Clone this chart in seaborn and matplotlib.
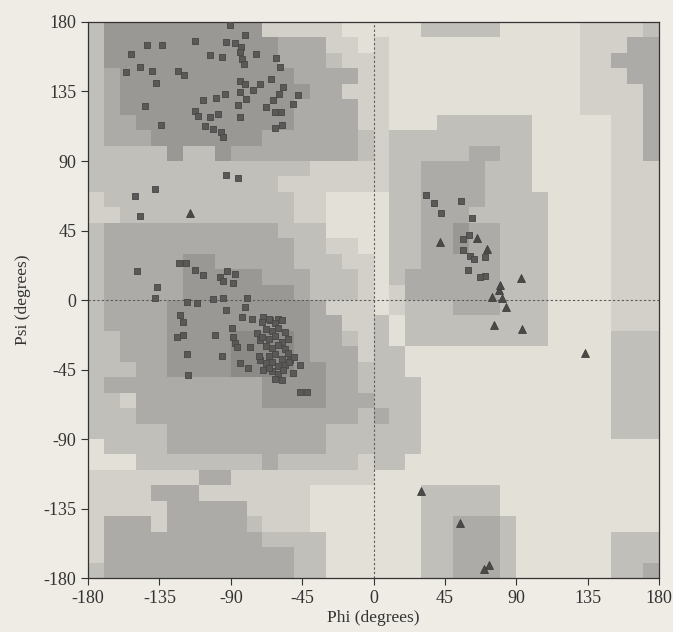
import numpy as np
import pandas as pd
import matplotlib
matplotlib.use("Agg")
import matplotlib.pyplot as plt
from matplotlib.colors import ListedColormap
import seaborn as sns

# background region map, 10 degree cells, rows from psi=180 (top) down to -180
region_rows = [
    "244444444441111100" + "000222220000011112",
    "244444444444333110" + "100000000000011133",
    "244444444444333211" + "100000000000011333",
    "234444444444433331" + "100000000000011133",
    "234444444444443311" + "100000000000011113",
    "234444444444433331" + "100000000000011113",
    "233444444444433331" + "100022222200000113",
    "233344444443333332" + "122222222200000113",
    "222224224333333332" + "122222332200000113",
    "222222222222221111" + "122333322200000111",
    "222222222222111111" + "122333322200000111",
    "122222222222211000" + "022333322220000111",
    "112222222222211000" + "022333222220000111",
    "233333333333222000" + "022334332220000111",
    "233333333333322110" + "022334332220000111",
    "233333443333322211" + "022333332220000111",
    "233333444443332221" + "023333332220000111",
    "233333444444432221" + "013333332220000111",
    "233334444444443111" + "012223332220000111",
    "233334444444443311" + "202222222220000111",
    "223334444555543321" + "202222222220000222",
    "223334444555543331" + "220000000000000222",
    "222334444555544332" + "220000000000000222",
    "233333333334444332" + "222000000000000222",
    "221333333334444333" + "222000000000000222",
    "222333333333333332" + "322000000000000222",
    "222223333333333222" + "222000000000000222",
    "022223333333333222" + "222000000000000000",
    "000222222223222221" + "220000000000000000",
    "111111133111111111" + "000000000000000000",
    "111133311111110000" + "000222220000000000",
    "111113333311110000" + "000222220000000000",
    "133313333321110000" + "000223332000000000",
    "133333333332222000" + "000223332000000222",
    "133333333333322000" + "000223332000000222",
    "233333333333322000" + "000223332000000223",
]
region_colors = ["#e3e0d8", "#d2d0c9", "#c0bfb9", "#acaba7", "#999894", "#8b8a87"]

# residues in non-glycine conformations (squares)
phi_res = [-90.7, -81.2, -142.6, -133.3, -112.7, -92.8, -87.5, -83.3, -84.4, -153.1,
           -103.3, -95.5, -82.9, -73.9, -61.3, -81.6, -147.0, -155.8, -139.4, -123.3,
           -119.5, -59.2, -136.9, -84.4, -81.2, -71.8, -64.8, -57.0, -59.8, -47.6,
           -93.8, -99.1, -76.0, -80.2, -107.5, -84.4, -63.4, -50.7, -143.9, -85.4,
           -112.7, -110.6, -98.0, -67.6, -62.3, -58.5, -84.4, -103.3, -133.8, -106.4,
           -101.2, -95.9, -94.9, -62.3, -57.7, -92.8, -85.4, -138.0, -150.2, -147.4,
           -122.9, -118.1, -149.3, -112.5, -107.3, -92.6, -87.4, -96.8, -94.7, -88.4,
           -136.7, -137.8, -117.8, -111.5, -101.0, -94.7, -80.0, -81.0, -93.2, -122.0,
           -119.9, -83.1, -76.8, -69.5, -65.2, -60.0, -89.4, -88.4, -124.1, -119.9,
           -99.9, -87.3, -86.2, -77.9, -71.6, -73.6, -117.4, -95.7, -84.2, -78.9,
           -71.6, -69.5, -116.8, -46.3, -42.1, -46.3, -50.6, -52.6,
           -70.0, -66.0, -62.0, -58.0, -68.0, -64.0, -60.0, -56.0, -70.0, -66.0,
           -62.0, -58.0, -54.0, -68.0, -64.0, -60.0, -56.0, -66.0, -62.0, -58.0,
           -54.0, -68.0, -64.0, -60.0, -56.0, -64.0, -60.0, -57.0, -62.0, -58.0,
           -66.0, -72.0, -53.0, -50.0,
           33.3, 38.1, 42.3, 55.0, 62.0, 60.5, 56.5, 56.3, 61.0, 63.4,
           70.2, 59.8, 70.5, 67.4]
psi_res = [178.3, 171.8, 164.9, 165.3, 167.5, 167.0, 166.6, 163.8, 160.6, 159.5,
           158.4, 157.3, 156.3, 159.5, 156.7, 153.0, 150.9, 147.6, 148.1, 148.1,
           145.9, 150.9, 140.7, 141.6, 140.1, 140.1, 142.9, 137.9, 133.6, 132.5,
           133.6, 130.8, 135.8, 129.9, 129.3, 134.7, 129.3, 127.1, 125.6, 126.0,
           122.2, 118.9, 120.6, 125.0, 121.7, 121.7, 118.5, 118.5, 113.5, 112.7,
           110.5, 108.8, 105.5, 111.4, 113.5, 80.7, 79.0, 71.6, 67.3, 54.4,
           24.1, 24.1, 19.0, 19.4, 16.1, 19.0, 17.0, 15.0, 12.5, 10.8,
           8.6, 1.0, -1.1, -1.8, 0.5, 1.0, 1.0, -4.4, -6.5, -9.8,
           -14.1, -10.9, -12.0, -10.9, -13.0, -12.0, -18.4, -23.8, -23.8, -22.7,
           -22.7, -28.1, -30.3, -30.3, -26.0, -21.6, -35.0, -36.3, -41.1, -44.3,
           -38.9, -45.4, -48.6, -59.4, -59.4, -42.1, -47.5, -38.9,
           -14.0, -12.0, -15.0, -13.0, -19.0, -20.0, -18.0, -21.0, -24.0, -25.0,
           -23.0, -27.0, -25.0, -30.0, -31.0, -29.0, -32.0, -36.0, -35.0, -38.0,
           -34.0, -41.0, -40.0, -43.0, -42.0, -46.0, -48.0, -45.0, -51.0, -52.0,
           -44.0, -36.0, -40.0, -37.0,
           67.8, 62.8, 56.3, 63.9, 52.8, 42.2, 39.2, 32.5, 28.5, 26.8,
           27.9, 19.3, 15.8, 14.6]

# glycine residues (triangles)
phi_gly = [-115.8, 29.7, 54.5, 72.8, 69.7, 133.4, 76.2, 93.6, 83.6, 80.8,
           74.5, 79.4, 79.8, 92.8, 71.4, 65.3, 41.7]
psi_gly = [56.3, -123.5, -144.2, -171.6, -174.4, -34.6, -16.5, -18.7, -4.4, 1.0,
           2.1, 6.4, 9.7, 14.1, 33.3, 40.2, 37.6]

ticks = [-180, -135, -90, -45, 0, 45, 90, 135, 180]

sns.set_style("ticks")
plt.rcParams["font.family"] = ["Liberation Serif", "DejaVu Serif"]
plt.rcParams["axes.unicode_minus"] = False

fig = plt.figure(figsize=(6.73, 6.32), dpi=100, facecolor="#efece5")
ax = fig.add_axes([0.1308, 0.0854, 0.8484, 0.8798])

levels = np.array([[int(c) for c in row] for row in region_rows])[::-1]
edges = np.arange(-180, 181, 10)
ax.pcolormesh(edges, edges, levels, cmap=ListedColormap(region_colors),
              vmin=-0.5, vmax=5.5, shading="flat")

df_res = pd.DataFrame({"phi": phi_res, "psi": psi_res})
df_gly = pd.DataFrame({"phi": phi_gly, "psi": psi_gly})
sns.scatterplot(data=df_res, x="phi", y="psi", marker="s", s=24,
                color="#5a5957", edgecolor="#474645", linewidth=0.6, ax=ax, zorder=3)
sns.scatterplot(data=df_gly, x="phi", y="psi", marker="^", s=32,
                color="#4b4a49", edgecolor="#3d3c3b", linewidth=0.6, ax=ax, zorder=3)

ax.axhline(0, color="#5a5a5a", lw=0.8, ls=(0, (2, 2)), zorder=2)
ax.axvline(0, color="#5a5a5a", lw=0.8, ls=(0, (2, 2)), zorder=2)

ax.set_xlim(-180, 180)
ax.set_ylim(-180, 180)
ax.set_xticks(ticks)
ax.set_yticks(ticks)
ax.tick_params(direction="out", length=5, width=0.8, labelsize=13, colors="#333333")
for sp in ax.spines.values():
    sp.set_color("#333333")
    sp.set_linewidth(0.9)
ax.set_xlabel("Phi (degrees)", fontsize=12.5, color="#333333", labelpad=2)
ax.set_ylabel("Psi (degrees)", fontsize=12.5, color="#333333", labelpad=9)

plt.savefig("out.png", dpi=100, facecolor=fig.get_facecolor())
